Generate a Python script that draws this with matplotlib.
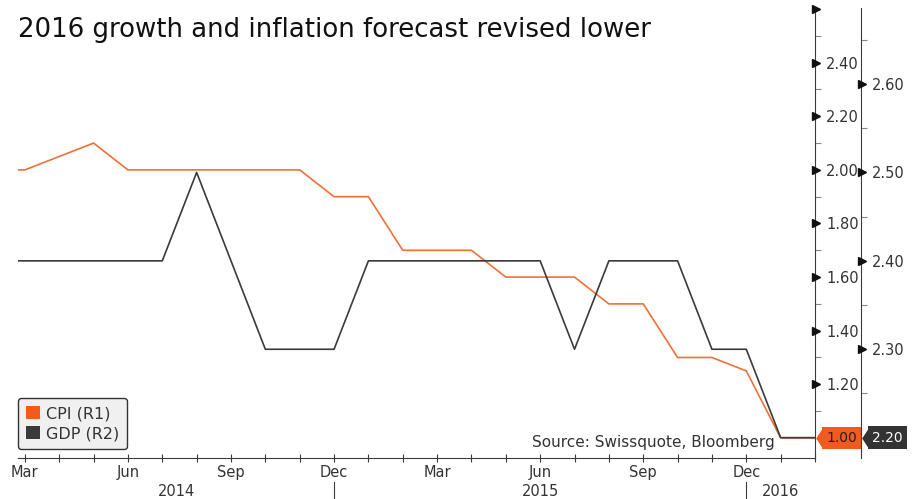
import numpy as np
import matplotlib
matplotlib.use("Agg")
import matplotlib.pyplot as plt
import matplotlib.transforms as mtransforms
from matplotlib.patches import Patch

# monthly observations, Feb 2014 .. Feb 2016
months = ["2014-02", "2014-03", "2014-04", "2014-05", "2014-06", "2014-07",
          "2014-08", "2014-09", "2014-10", "2014-11", "2014-12", "2015-01",
          "2015-02", "2015-03", "2015-04", "2015-05", "2015-06", "2015-07",
          "2015-08", "2015-09", "2015-10", "2015-11", "2015-12", "2016-01",
          "2016-02"]
cpi = [2.00, 2.00, 2.05, 2.10, 2.00, 2.00, 2.00, 2.00, 2.00, 2.00, 1.90, 1.90,
       1.70, 1.70, 1.70, 1.60, 1.60, 1.60, 1.50, 1.50, 1.30, 1.30, 1.25, 1.00,
       1.00]
gdp = [2.40, 2.40, 2.40, 2.40, 2.40, 2.40, 2.50, 2.40, 2.30, 2.30, 2.30, 2.40,
       2.40, 2.40, 2.40, 2.40, 2.40, 2.30, 2.40, 2.40, 2.40, 2.30, 2.30, 2.20,
       2.20]
month_labels = {"2014-03": "Mar", "2014-06": "Jun", "2014-09": "Sep",
                "2014-12": "Dec", "2015-03": "Mar", "2015-06": "Jun",
                "2015-09": "Sep", "2015-12": "Dec"}
years = ["2014", "2015", "2016"]
year_centers = [4.4, 15.0, 22.0]   # in month-index units
year_breaks = [9, 21]

r1_ticks = [1.20, 1.40, 1.60, 1.80, 2.00, 2.20, 2.40, 2.60]
r2_ticks = [2.30, 2.40, 2.50, 2.60]

CPI_COL = "#f0703a"
GDP_COL = "#3a3a3a"
TXT = "#333333"

plt.rcParams["font.family"] = ["DejaVu Sans"]

W, H = 914, 499
fig = plt.figure(figsize=(W / 100, H / 100), dpi=100)
left, right, top, bottom = 18, 815, 8, 458
ax = fig.add_axes([left / W, (H - bottom) / H, (right - left) / W, (bottom - top) / H])
ax2 = ax.twinx()

x = np.arange(len(months)) - 1  # Mar 2014 -> 0
ax.plot(x, cpi, color=CPI_COL, lw=1.2, zorder=3)
ax2.plot(x, gdp, color=GDP_COL, lw=1.2, zorder=3)

ax.set_xlim(-0.2, 23.0)
ax.set_ylim(0.925, 2.604)
ax2.set_ylim(2.177, 2.686)

# spines
for a in (ax, ax2):
    a.spines["left"].set_visible(False)
    a.spines["top"].set_visible(False)
    a.spines["right"].set_color(GDP_COL)
ax2.spines["bottom"].set_visible(False)
ax.spines["bottom"].set_color(GDP_COL)
ax2.spines["right"].set_position(("outward", 46 * 72 / 100))

# right axes ticks
ax.yaxis.tick_right()
ax.set_yticks(r1_ticks)
ax.set_yticklabels([f"{v:.2f}" if v < 2.5 else "" for v in r1_ticks])
ax.set_yticks(np.arange(1.1, 2.6, 0.2), minor=True)
ax2.set_yticks(r2_ticks)
ax2.set_yticklabels([f"{v:.2f}" for v in r2_ticks])
ax2.set_yticks(np.arange(2.25, 2.7, 0.1), minor=True)
for a in (ax, ax2):
    a.tick_params(axis="y", which="major", length=0, pad=8, labelsize=10.5,
                  labelcolor=TXT)
    a.tick_params(axis="y", which="minor", length=4, width=0.8, color="#888888")

# triangular major tick marks
px = lambda n: mtransforms.ScaledTranslation(n / 100, 0, fig.dpi_scale_trans)
tr1 = mtransforms.blended_transform_factory(ax.transAxes, ax.transData)
ax.plot([1.0] * len(r1_ticks), r1_ticks, ls="none", marker=">", ms=5.5,
        color="#111111", transform=tr1 + px(1), clip_on=False, zorder=5)
tr2 = mtransforms.blended_transform_factory(ax2.transAxes, ax2.transData) + px(46)
ax2.plot([1.0] * len(r2_ticks), r2_ticks, ls="none", marker=">", ms=5.5,
         color="#111111", transform=tr2 + px(1), clip_on=False, zorder=5)

# x axis
ax.set_xticks(np.arange(0, 24))
lab = [month_labels.get(m, "") for m in months[1:]]
ax.set_xticklabels(lab)
ax.tick_params(axis="x", direction="inout", length=6, width=0.8, color=GDP_COL,
               labelsize=10.5, labelcolor=TXT, pad=2)

xtr = mtransforms.blended_transform_factory(ax.transData, fig.transFigure)
for yr, xc in zip(years, year_centers):
    fig.text(xc, 1 - 491 / H, yr, transform=xtr, ha="center", va="center",
             fontsize=10.5, color=TXT)
for xb in year_breaks:
    fig.add_artist(plt.Line2D([xb, xb], [1 - 482 / H, 0], transform=xtr,
                              color=GDP_COL, lw=0.8))

# title and source
ax.text(0.0, 1 - 22 / (bottom - top), "2016 growth and inflation forecast revised lower",
        transform=ax.transAxes, ha="left", va="center", fontsize=18.7,
        color="#111111")
ax.text((775 - left) / (right - left), (bottom - 443) / (bottom - top),
        "Source: Swissquote, Bloomberg", transform=ax.transAxes, ha="right",
        va="center", fontsize=11, color=TXT)

# legend
handles = [Patch(facecolor="#f25a1e", edgecolor="none", label="CPI (R1)"),
           Patch(facecolor=GDP_COL, edgecolor="none", label="GDP (R2)")]
leg = ax.legend(handles=handles, loc="lower left", bbox_to_anchor=(0.0, 0.02),
                fontsize=11.5, frameon=True, fancybox=True, handlelength=0.85,
                handleheight=0.85, handletextpad=0.4, borderpad=0.5,
                labelspacing=0.3, borderaxespad=0.0)
leg.get_frame().set_facecolor("#f0f0f0")
leg.get_frame().set_edgecolor("#333333")
leg.get_frame().set_alpha(1)
for t in leg.get_texts():
    t.set_color(TXT)

# last-value badges: square body plus a pointed left tip
tip = [(-0.33, 0.0), (0.0, 0.5), (0.0, -0.5)]
for a, tr, val, fc, tc in [(ax, tr1, cpi[-1], "#f25a1e", "#222222"),
                           (ax2, tr2, gdp[-1], "#333333", "white")]:
    a.text(1.0, val, f"{val:.2f}", transform=tr + px(11), ha="left",
           va="center", fontsize=10, color=tc, zorder=6, clip_on=False,
           bbox=dict(boxstyle="square,pad=0.3", fc=fc, ec="none"))
    a.plot([1.0], [val], ls="none", marker=tip, ms=16, color=fc,
           markeredgewidth=0, transform=tr + px(7.5), clip_on=False, zorder=6)

fig.savefig("out.png", dpi=100)
